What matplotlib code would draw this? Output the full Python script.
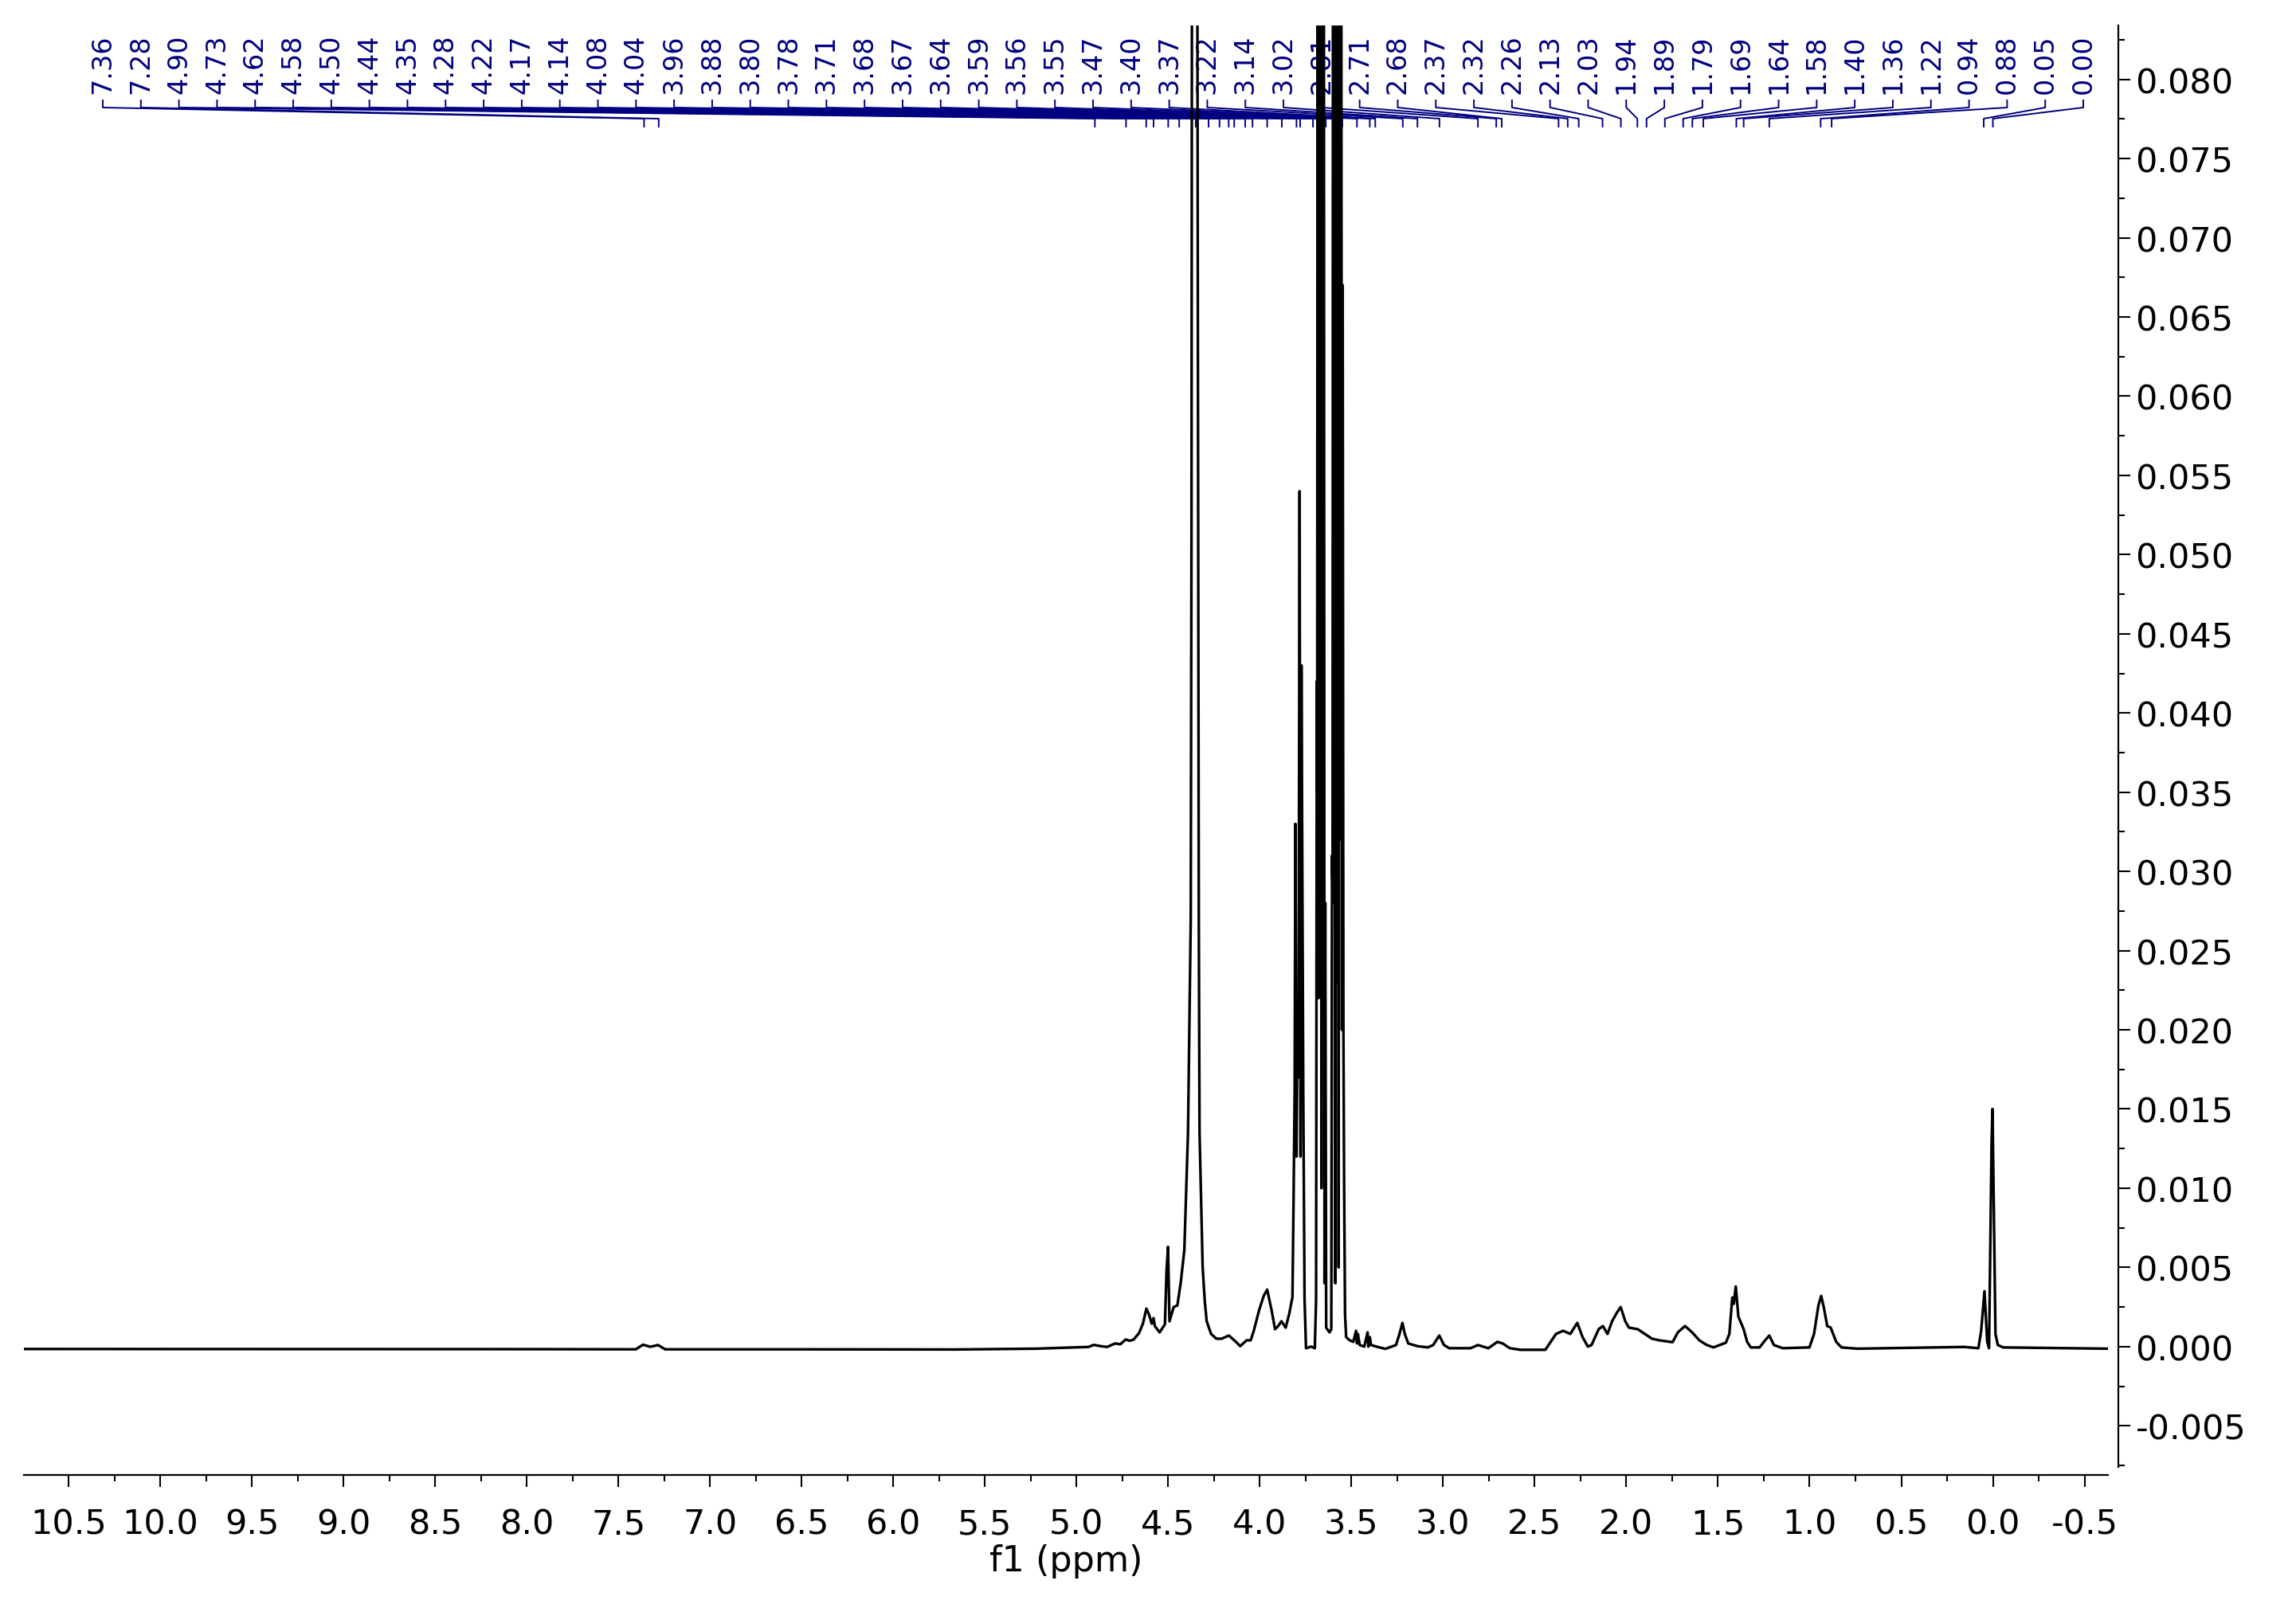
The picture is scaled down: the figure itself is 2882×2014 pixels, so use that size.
import matplotlib
matplotlib.use("Agg")
import matplotlib.pyplot as plt
from matplotlib.ticker import MultipleLocator, FormatStrFormatter

plt.rcParams['font.family'] = ['DejaVu Sans']
plt.rcParams['axes.unicode_minus'] = False

# traced spectrum vertices (ppm, intensity)
ppm = [10.744, 8.0, 7.405, 7.366, 7.326, 7.284, 7.245, 6.5, 5.66, 5.224, 5.022, 4.935,
       4.906, 4.869, 4.833, 4.790, 4.761, 4.732, 4.710, 4.688, 4.659, 4.638, 4.619, 4.604,
       4.590, 4.580, 4.573, 4.547, 4.518, 4.509, 4.501, 4.493, 4.470, 4.450, 4.431, 4.412,
       4.392, 4.377, 4.373, 4.368, 4.345, 4.338, 4.333, 4.329, 4.312, 4.300, 4.290, 4.266,
       4.237, 4.208, 4.169, 4.130, 4.107, 4.072, 4.050, 4.033, 4.004, 3.979, 3.960, 3.936,
       3.917, 3.900, 3.882, 3.859, 3.839, 3.826, 3.822, 3.816, 3.810, 3.806, 3.800, 3.795,
       3.789, 3.783, 3.778, 3.773, 3.768, 3.763, 3.756, 3.748, 3.720, 3.700,
       3.693, 3.689, 3.687, 3.684, 3.680, 3.676, 3.671, 3.667, 3.664, 3.660, 3.656, 3.652,
       3.647, 3.643, 3.638, 3.620, 3.610,
       3.606, 3.603, 3.600, 3.596, 3.592, 3.588, 3.584, 3.579, 3.575, 3.570, 3.566, 3.561,
       3.557, 3.552, 3.548, 3.544, 3.540, 3.535, 3.529,
       3.520, 3.509, 3.490, 3.475, 3.470, 3.465, 3.455, 3.430, 3.412, 3.408, 3.400, 3.393,
       3.364, 3.315, 3.257, 3.238, 3.222, 3.209, 3.190, 3.140, 3.083, 3.054, 3.021, 2.995,
       2.966, 2.850, 2.810, 2.753, 2.704, 2.675, 2.636, 2.578, 2.442, 2.413, 2.384, 2.345,
       2.306, 2.268, 2.239, 2.210, 2.190, 2.151, 2.128, 2.103, 2.078, 2.054, 2.031, 2.006,
       1.986, 1.938, 1.899, 1.860, 1.821, 1.748, 1.719, 1.680, 1.641, 1.602, 1.564, 1.525,
       1.457, 1.438, 1.422, 1.414, 1.403, 1.389, 1.360, 1.341, 1.321, 1.273, 1.243, 1.220,
       1.195, 1.146, 1.001, 0.976, 0.952, 0.937, 0.923, 0.904, 0.885, 0.855, 0.826, 0.739,
       0.157, 0.079, 0.064, 0.046, 0.031, 0.021, 0.007, 0.002, -0.008, -0.014, -0.027,
       -0.056, -0.628]
intensity = [-0.00015, -0.00016, -0.00017, 0.00012, -0.00001, 0.00010, -0.00017, -0.00017,
             -0.00018, -0.00013, -0.00005, -0.00002, 0.00011, 0.00003, -0.00002, 0.00020,
             0.00015, 0.00045, 0.00037, 0.00045, 0.00086, 0.00145, 0.0024, 0.0020, 0.00145,
             0.0018, 0.0013, 0.0009, 0.0014, 0.0048, 0.0063, 0.0016, 0.0025, 0.0026, 0.0041,
             0.0061, 0.0135, 0.027, 0.051, 0.12, 0.12, 0.063, 0.027, 0.0135, 0.0050, 0.0028,
             0.0016, 0.0008, 0.0005, 0.0005, 0.0007, 0.0003, 0.00003, 0.0004, 0.0004, 0.0010,
             0.0023, 0.0032, 0.0036, 0.0023, 0.0011, 0.0013, 0.0016, 0.0012, 0.0021, 0.0029,
             0.0031, 0.0092, 0.016, 0.033, 0.012, 0.020, 0.017, 0.054, 0.012, 0.043, 0.030,
             0.016, 0.003, -0.0001, 0.0000, -0.0001,
             0.003, 0.042, 0.035, 0.12, 0.022, 0.12, 0.064, 0.12, 0.010, 0.12, 0.021, 0.12,
             0.004, 0.028, 0.0012, 0.0009, 0.0011,
             0.031, 0.029, 0.12, 0.028, 0.12, 0.004, 0.12, 0.023, 0.12, 0.005, 0.12, 0.032,
             0.12, 0.020, 0.067, 0.020, 0.010, 0.002, 0.0006,
             0.0005, 0.0004, 0.0003, 0.0010, 0.0002, 0.0008, 0.0001, 0.0000, 0.0009, 0.0000,
             0.0006, 0.0001, 0.0000, -0.00014, 0.0001, 0.0008, 0.0015, 0.0008, 0.0002,
             0.00003, -0.00005, 0.0001, 0.0007, 0.0001, -0.0001, -0.0001, 0.0001, -0.0001,
             0.0003, 0.0002, -0.0001, -0.0002, -0.0002, 0.0003, 0.0008, 0.0010, 0.0008,
             0.0015, 0.0006, 0.0000, 0.0001, 0.0011, 0.0013, 0.0008, 0.0016, 0.0021, 0.0025,
             0.0016, 0.0012, 0.0011, 0.0008, 0.0005, 0.0004, 0.00028, 0.0009, 0.0013, 0.0009,
             0.0004, 0.00012, -0.00005, 0.00025, 0.0008, 0.0031, 0.0027, 0.0038, 0.0019,
             0.0011, 0.0003, -0.00005, -0.00005, 0.0004, 0.0007, 0.0001, -0.0001, -0.00005,
             0.0008, 0.0026, 0.0032, 0.0025, 0.0013, 0.0012, 0.0003, -0.00005, -0.00013,
             -0.00002, -0.0001, 0.001, 0.0035, 0.0003, -0.0001, 0.0130, 0.0150, 0.0063,
             0.0008, 0.0001, -0.00005, -0.00013]

# peak picking labels
peak_labels = [7.36, 7.28, 4.90, 4.73, 4.62, 4.58, 4.50, 4.44, 4.35, 4.28, 4.22, 4.17, 4.14,
               4.08, 4.04, 3.96, 3.88, 3.80, 3.78, 3.71, 3.68, 3.67, 3.64, 3.59, 3.56, 3.55,
               3.47, 3.40, 3.37, 3.22, 3.14, 3.02, 2.81, 2.71, 2.68, 2.37, 2.32, 2.26, 2.13,
               2.03, 1.94, 1.89, 1.79, 1.69, 1.64, 1.58, 1.40, 1.36, 1.22, 0.94, 0.88, 0.05,
               0.00]

W, H = 2882, 2015
navy = '#000080'

fig = plt.figure(figsize=(W / 100, H / 100), dpi=100)
ax = fig.add_axes([30 / W, (H - 1843) / H, (2646 - 30) / W, (1843 - 33) / H])

ax.plot(ppm, intensity, color='black', lw=2.4, zorder=3)
ax.set_xlim(10.744, -0.628)
ax.set_ylim(-0.0076, 0.0834)

for s in ['left', 'top']:
    ax.spines[s].set_visible(False)
ax.spines['right'].set_position(('outward', 9.4))
ax.spines['bottom'].set_position(('outward', 7.2))
for s in ['right', 'bottom']:
    ax.spines[s].set_linewidth(1.6)

ax.yaxis.tick_right()
ax.xaxis.set_major_locator(MultipleLocator(0.5))
ax.xaxis.set_minor_locator(MultipleLocator(0.25))
ax.yaxis.set_major_locator(MultipleLocator(0.005))
ax.yaxis.set_minor_locator(MultipleLocator(0.0025))
ax.xaxis.set_major_formatter(FormatStrFormatter('%.1f'))
ax.yaxis.set_major_formatter(FormatStrFormatter('%.3f'))
ax.tick_params(which='major', direction='out', length=10.5, width=1.5, labelsize=31)
ax.tick_params(which='minor', direction='out', length=5.5, width=1.5)
ax.tick_params(axis='x', which='major', pad=19)
ax.tick_params(axis='y', which='major', pad=5)
ax.set_xlabel('f1 (ppm)', fontsize=32, labelpad=2)

# peak labels with connector lines
to_fig = fig.transFigure.inverted()
y1, y2, y3, y4 = [1 - v / H for v in (127, 136, 150, 160)]
for i, v in enumerate(peak_labels):
    xl = (129 + i * (2615 - 129) / (len(peak_labels) - 1)) / W
    xp = to_fig.transform(ax.transData.transform((v, 0)))[0]
    ax.plot([xl, xl, xp, xp], [y1, y2, y3, y4], transform=fig.transFigure,
            color=navy, lw=1.4, clip_on=False, zorder=1)
    ax.text(xl, 1 - 118 / H, f"{v:.2f}", rotation=90, ha='center', va='bottom',
            transform=fig.transFigure, fontsize=24, color=navy, zorder=1)

fig.savefig('out.png', dpi=100)
